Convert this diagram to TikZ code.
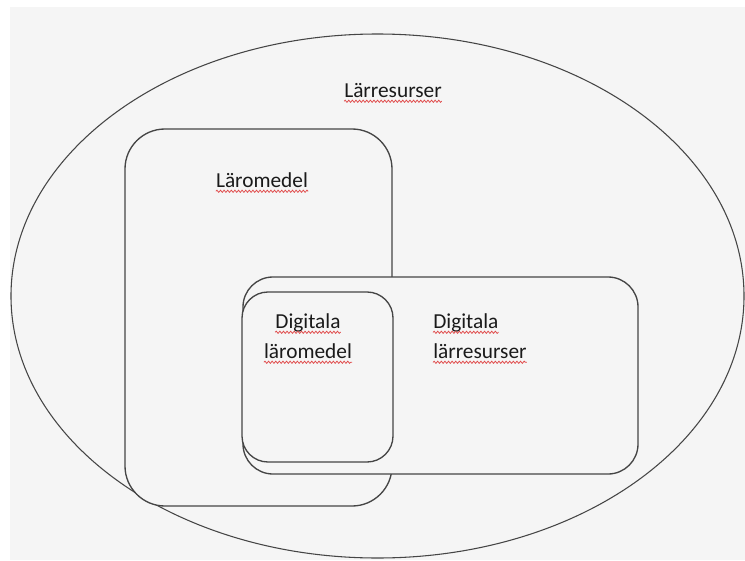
\documentclass[tikz,border=0pt]{standalone}
\usepackage{fontspec}
\setmainfont{Carlito}
\usetikzlibrary{shapes.geometric,decorations.pathmorphing}
\definecolor{bg}{HTML}{F5F5F5}
\definecolor{ln}{HTML}{454545}
\definecolor{txt}{HTML}{1A1A1A}
\definecolor{spellred}{HTML}{E04848}
\tikzset{
  px/.style={x=0.75pt,y=-0.75pt},
  box/.style={draw=ln,line width=1pt,fill=bg,rectangle,inner sep=0pt,outer sep=0pt},
  lbl/.style={text=txt,inner sep=0pt,anchor=base,font=\fontsize{16pt}{22.5pt}\selectfont},
  squig/.style={draw=spellred,line width=0.55pt,decorate,decoration={snake,amplitude=0.85pt,segment length=2.7pt}},
}
\begin{document}
\begin{tikzpicture}[px]
\useasboundingbox (0,0) rectangle (745,560);
\fill[white] (0,0) rectangle (745,560);
\fill[bg] (10,7) rectangle (745,560);
% outer ellipse
\node[ellipse,draw=ln,line width=0.8pt,inner sep=0pt,minimum width=549.75pt,minimum height=393pt] (lr) at (377.5,296) {};
% boxes
\node[box,rounded corners=30pt,minimum width=200.25pt,minimum height=282.75pt] (lm) at (258.5,317.5) {};
\node[box,rounded corners=22.5pt,minimum width=296.25pt,minimum height=147.75pt] (dlr) at (440.5,375.5) {};
\node[box,rounded corners=19.5pt,minimum width=113.25pt,minimum height=127.5pt] (dlm) at (317.5,377) {};
% labels
\node[lbl] (tlr) at (393,97) {Lärresurser};
\node[lbl] (tlm) at (262,187) {Läromedel};
\node[lbl] (tdlm1) at (308,328) {Digitala};
\node[lbl] (tdlm2) at (308,358) {läromedel};
\node[lbl,anchor=base west] (tdlr1) at (433,328) {Digitala};
\node[lbl,anchor=base west] (tdlr2) at (433,358) {lärresurser};
% spell-check underlines
\foreach \n in {tlr,tlm,tdlm1,tdlm2,tdlr1,tdlr2}
  \draw[squig] ([yshift=-3.2pt]\n.base west) -- ([yshift=-3.2pt]\n.base east);
\end{tikzpicture}
\end{document}
